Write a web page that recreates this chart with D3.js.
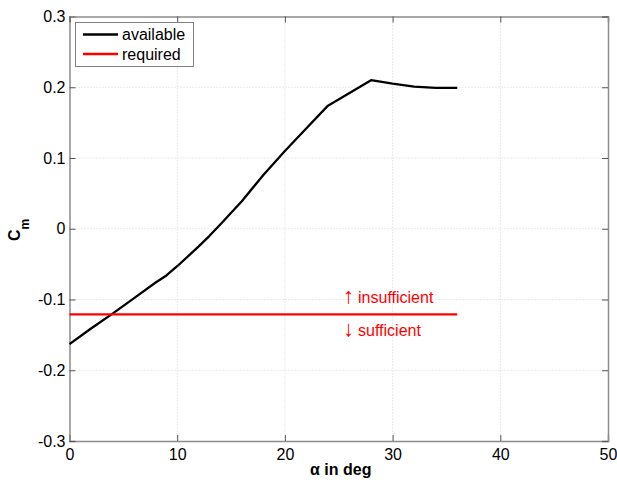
<!DOCTYPE html>
<html><head><meta charset="utf-8">
<script src="https://cdn.jsdelivr.net/npm/d3@7"></script>
<style>body{margin:0;background:#fff}svg{display:block;font-family:"Liberation Sans",Arial,sans-serif}</style>
</head><body>
<svg id="c" width="617" height="485"></svg>
<script>
const alpha = [0,2,4,6,8,9,10,12,13,14,16,18,20,22,24,26,28,30,32,34,36];
const cmAvailable = [-0.163,-0.141,-0.120,-0.098,-0.076,-0.066,-0.053,-0.025,-0.010,0.006,0.039,0.076,0.110,0.142,0.174,0.192,0.210,0.205,0.201,0.199,0.199];
const requiredAlpha = [0,36];
const cmRequired = [-0.121,-0.121];
const xTicks = [0,10,20,30,40,50];
const yTicks = [-0.3,-0.2,-0.1,0,0.1,0.2,0.3];
const legendLabels = ["available","required"];

const svg = d3.select("#c");
const L=69.5,R=608,T=16.5,B=441;
const x = d3.scaleLinear().domain([0,50]).range([L,R]);
const y = d3.scaleLinear().domain([-0.3,0.3]).range([B,T]);
const FONT="Liberation Sans, Arial, sans-serif";

// grid
const g = svg.append("g");
g.selectAll(".gx").data(xTicks.slice(1,-1)).enter().append("line")
 .attr("x1",d=>x(d)).attr("x2",d=>x(d)).attr("y1",T).attr("y2",B)
 .attr("stroke","#d4d4d4").attr("stroke-width",1).attr("stroke-dasharray","1,2");
g.selectAll(".gy").data(yTicks.slice(1,-1)).enter().append("line")
 .attr("y1",d=>y(d)).attr("y2",d=>y(d)).attr("x1",L).attr("x2",R)
 .attr("stroke","#d4d4d4").attr("stroke-width",1).attr("stroke-dasharray","1,2");

// axes
const fmtY = d => d===0 ? "0" : (d<0?"-":"") + Math.abs(d).toFixed(1);
const axB = svg.append("g").attr("transform",`translate(0,${B})`)
 .call(d3.axisBottom(x).tickValues(xTicks).tickSize(-6).tickPadding(8).tickFormat(d3.format("d")));
const axL = svg.append("g").attr("transform",`translate(${L},0)`)
 .call(d3.axisLeft(y).tickValues(yTicks).tickSize(-6).tickPadding(4).tickFormat(fmtY));
const axT = svg.append("g").attr("transform",`translate(0,${T})`)
 .call(d3.axisTop(x).tickValues(xTicks).tickSize(-6).tickFormat(""));
const axR = svg.append("g").attr("transform",`translate(${R},0)`)
 .call(d3.axisRight(y).tickValues(yTicks).tickSize(-6).tickFormat(""));
[axB,axL,axT,axR].forEach(a=>{
  a.selectAll("path").attr("stroke","#8c8c8c").attr("stroke-width",1.5);
  a.selectAll("line").attr("stroke","#555");
  a.selectAll("text").attr("font-size",16).attr("fill","#000").attr("font-family",FONT);
});

// lines
const line = d3.line().x(d=>x(d[0])).y(d=>y(d[1]));
svg.append("path").datum(alpha.map((a,i)=>[a,cmAvailable[i]]))
 .attr("d",line).attr("fill","none").attr("stroke","#000").attr("stroke-width",2.3).attr("stroke-linejoin","round");
svg.append("path").datum(requiredAlpha.map((a,i)=>[a,cmRequired[i]]))
 .attr("d",line).attr("fill","none").attr("stroke","#ff0000").attr("stroke-width",2.3);

// annotations
function note(txt, arrow, dy){
  const t = svg.append("text").attr("x",x(25.4)).attr("y",y(cmRequired[0])+dy).attr("fill","#ff0000").attr("font-size",16);
  t.append("tspan").attr("font-size",22).text(arrow);
  t.append("tspan").attr("dx",4).text(txt);
}
note("insufficient","\u2191",-11);
note("sufficient","\u2193",21.5);

// legend
const lg = svg.append("g");
lg.append("rect").attr("x",75.5).attr("y",22.5).attr("width",118).attr("height",44).attr("fill","#fff").attr("stroke","#808080").attr("stroke-width",1);
const lc=["#000","#ff0000"];
legendLabels.forEach((t,i)=>{
  const yy=34.5+i*19.5;
  lg.append("line").attr("x1",83).attr("x2",118).attr("y1",yy).attr("y2",yy).attr("stroke",lc[i]).attr("stroke-width",2.3);
  lg.append("text").attr("x",122).attr("y",yy+5.5).attr("font-size",16).text(t);
});

// axis labels
svg.append("text").attr("x",(L+R)/2+2).attr("y",475).attr("text-anchor","middle").attr("font-weight","bold").attr("font-size",16).text("\u03b1 in deg");
const yl = svg.append("text").attr("transform",`translate(20,241) rotate(-90)`).attr("font-weight","bold").attr("font-size",16);
yl.append("tspan").text("C");
yl.append("tspan").attr("font-size",12).attr("dy",9).text("m");
</script>
</body></html>
